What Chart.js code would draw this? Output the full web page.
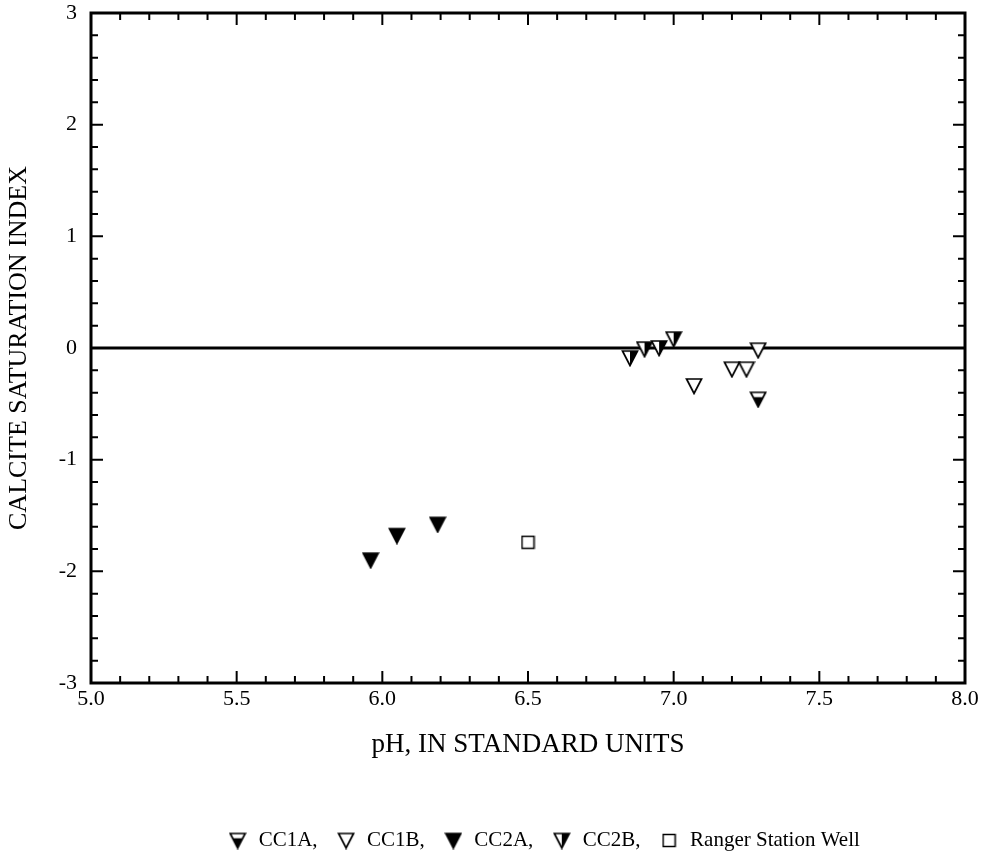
<!DOCTYPE html>
<html><head><meta charset="utf-8">
<script src="https://cdn.jsdelivr.net/npm/chart.js@4/dist/chart.umd.min.js"></script>
<style>html,body{margin:0;padding:0;background:#fff;}#wrap{width:989px;height:853px;position:relative;}</style>
</head><body><div id="wrap"><canvas id="c"></canvas></div>
<script>
// ---- data ----
const xTickLabels = ['5.0','5.5','6.0','6.5','7.0','7.5','8.0'];
const yTickLabels = ['-3','-2','-1','0','1','2','3'];
const seriesNames = ['CC1A','CC1B','CC2A','CC2B','Ranger Station Well'];
const cc1aPH = [7.29];
const cc1aSI = [-0.46];
const cc1bPH = [7.07, 7.20, 7.25, 7.29];
const cc1bSI = [-0.34, -0.19, -0.19, -0.02];
const cc2aPH = [5.96, 6.05, 6.19];
const cc2aSI = [-1.90, -1.68, -1.58];
const cc2bPH = [6.85, 6.90, 6.95, 7.00];
const cc2bSI = [-0.09, -0.01, 0.00, 0.08];
const rangerPH = [6.50];
const rangerSI = [-1.74];
const zeroLinePH = [5.0, 8.0];
const zeroLineSI = [0, 0];

const FONT = 'Liberation Serif, Times New Roman, serif';
const toPts = (xs, ys) => xs.map((v, i) => ({x: v, y: ys[i]}));

function triMarker(kind) {
  const s = 18, c = document.createElement('canvas');
  c.width = s; c.height = s;
  const g = c.getContext('2d');
  const x0 = 1.5, x1 = s - 1.5, yt = 2, yb = s - 1.5, xm = s / 2;
  const path = () => { g.beginPath(); g.moveTo(x0, yt); g.lineTo(x1, yt); g.lineTo(xm, yb); g.closePath(); };
  path(); g.fillStyle = '#fff'; g.fill();
  g.save(); path(); g.clip(); g.fillStyle = '#000';
  if (kind === 'full') g.fillRect(0, 0, s, s);
  if (kind === 'bottom') g.fillRect(0, yt + (yb - yt) * 0.33, s, s);
  if (kind === 'right') g.fillRect(xm, 0, s, s);
  g.restore();
  path(); g.lineWidth = 1.7; g.strokeStyle = '#000'; g.lineJoin = 'miter'; g.stroke();
  return c;
}
function squareMarker() {
  const s = 15, c = document.createElement('canvas');
  c.width = s; c.height = s;
  const g = c.getContext('2d');
  g.fillStyle = '#fff'; g.fillRect(1, 1, s - 2, s - 2);
  g.lineWidth = 1.5; g.strokeStyle = '#000'; g.strokeRect(1.5, 1.5, s - 3, s - 3);
  return c;
}

const isMult = (v, step) => Math.abs(v / step - Math.round(v / step)) < 1e-6;

const framePlugin = {
  id: 'frame',
  afterLayout(chart) {
    // shift the legend row to the right, as in the reference
    if (chart.legend) { chart.legend.left += 61; chart.legend.right += 61; }
  },
  afterDatasetsDraw(chart) {
    const {ctx, chartArea: a, scales: {x, y}} = chart;
    ctx.save();
    ctx.strokeStyle = '#000';
    ctx.lineWidth = 2;
    ctx.beginPath();
    x.ticks.forEach(t => {
      const px = x.getPixelForValue(t.value);
      const L = isMult(t.value, 0.5) ? 12 : 7;
      ctx.moveTo(px, a.bottom); ctx.lineTo(px, a.bottom - L);
      ctx.moveTo(px, a.top); ctx.lineTo(px, a.top + L);
    });
    y.ticks.forEach(t => {
      const py = y.getPixelForValue(t.value);
      const L = isMult(t.value, 1) ? 12 : 7;
      ctx.moveTo(a.left, py); ctx.lineTo(a.left + L, py);
      ctx.moveTo(a.right, py); ctx.lineTo(a.right - L, py);
    });
    ctx.stroke();
    ctx.lineWidth = 3;
    ctx.strokeRect(a.left, a.top, a.right - a.left, a.bottom - a.top);
    ctx.restore();
  }
};

const markers = [triMarker('bottom'), triMarker('open'), triMarker('full'), triMarker('right'), squareMarker()];

new Chart(document.getElementById('c'), {
  type: 'scatter',
  data: {
    datasets: [
      {label: seriesNames[0], data: toPts(cc1aPH, cc1aSI), pointStyle: markers[0], order: 1},
      {label: seriesNames[1], data: toPts(cc1bPH, cc1bSI), pointStyle: markers[1], order: 1},
      {label: seriesNames[2], data: toPts(cc2aPH, cc2aSI), pointStyle: markers[2], order: 1},
      {label: seriesNames[3], data: toPts(cc2bPH, cc2bSI), pointStyle: markers[3], order: 1},
      {label: seriesNames[4], data: toPts(rangerPH, rangerSI), pointStyle: markers[4], order: 1},
      {label: 'zero', type: 'line', data: toPts(zeroLinePH, zeroLineSI), borderColor: '#000', borderWidth: 3, pointRadius: 0, order: 2}
    ]
  },
  options: {
    responsive: true,
    maintainAspectRatio: false,
    animation: false,
    layout: {padding: {left: 0, right: 24, top: 13, bottom: -8}},
    plugins: {
      tooltip: {enabled: false},
      legend: {
        position: 'bottom',
        labels: {
          usePointStyle: true,
          color: '#000',
          padding: 18,
          font: {family: FONT, size: 21},
          generateLabels(chart) {
            const items = Chart.defaults.plugins.legend.labels.generateLabels(chart).filter(it => it.text !== 'zero');
            items.forEach((it, i) => {
              it.pointStyle = markers[i];
              if (i < items.length - 1) it.text = it.text + ',';
            });
            return items;
          }
        }
      }
    },
    scales: {
      x: {
        type: 'linear', min: 5, max: 8,
        grid: {display: false, drawTicks: false},
        border: {display: false},
        afterFit(s) { s.height = 129; },
        ticks: {
          stepSize: 0.1, autoSkip: false, maxRotation: 0, maxTicksLimit: 1000,
          padding: 3, color: '#000', font: {family: FONT, size: 22},
          callback: v => isMult(v - 5, 0.5) ? xTickLabels[Math.round((v - 5) / 0.5)] : ''
        },
        title: {display: true, text: 'pH, IN STANDARD UNITS', color: '#000',
          font: {family: FONT, size: 27}, padding: {top: 0, bottom: 51}}
      },
      y: {
        type: 'linear', min: -3, max: 3,
        grid: {display: false, drawTicks: false},
        border: {display: false},
        afterFit(s) { s.width = 91; s.paddingTop = 0; s.paddingBottom = 0; },
        ticks: {
          stepSize: 0.2, autoSkip: false, maxTicksLimit: 1000,
          padding: 14, color: '#000', font: {family: FONT, size: 22},
          callback: v => isMult(v, 1) ? yTickLabels[Math.round(v) + 3] : ''
        },
        title: {display: true, text: 'CALCITE SATURATION INDEX', color: '#000',
          font: {family: FONT, size: 26}, padding: {top: 4, bottom: 0}}
      }
    }
  },
  plugins: [framePlugin]
});
</script>
</body></html>
